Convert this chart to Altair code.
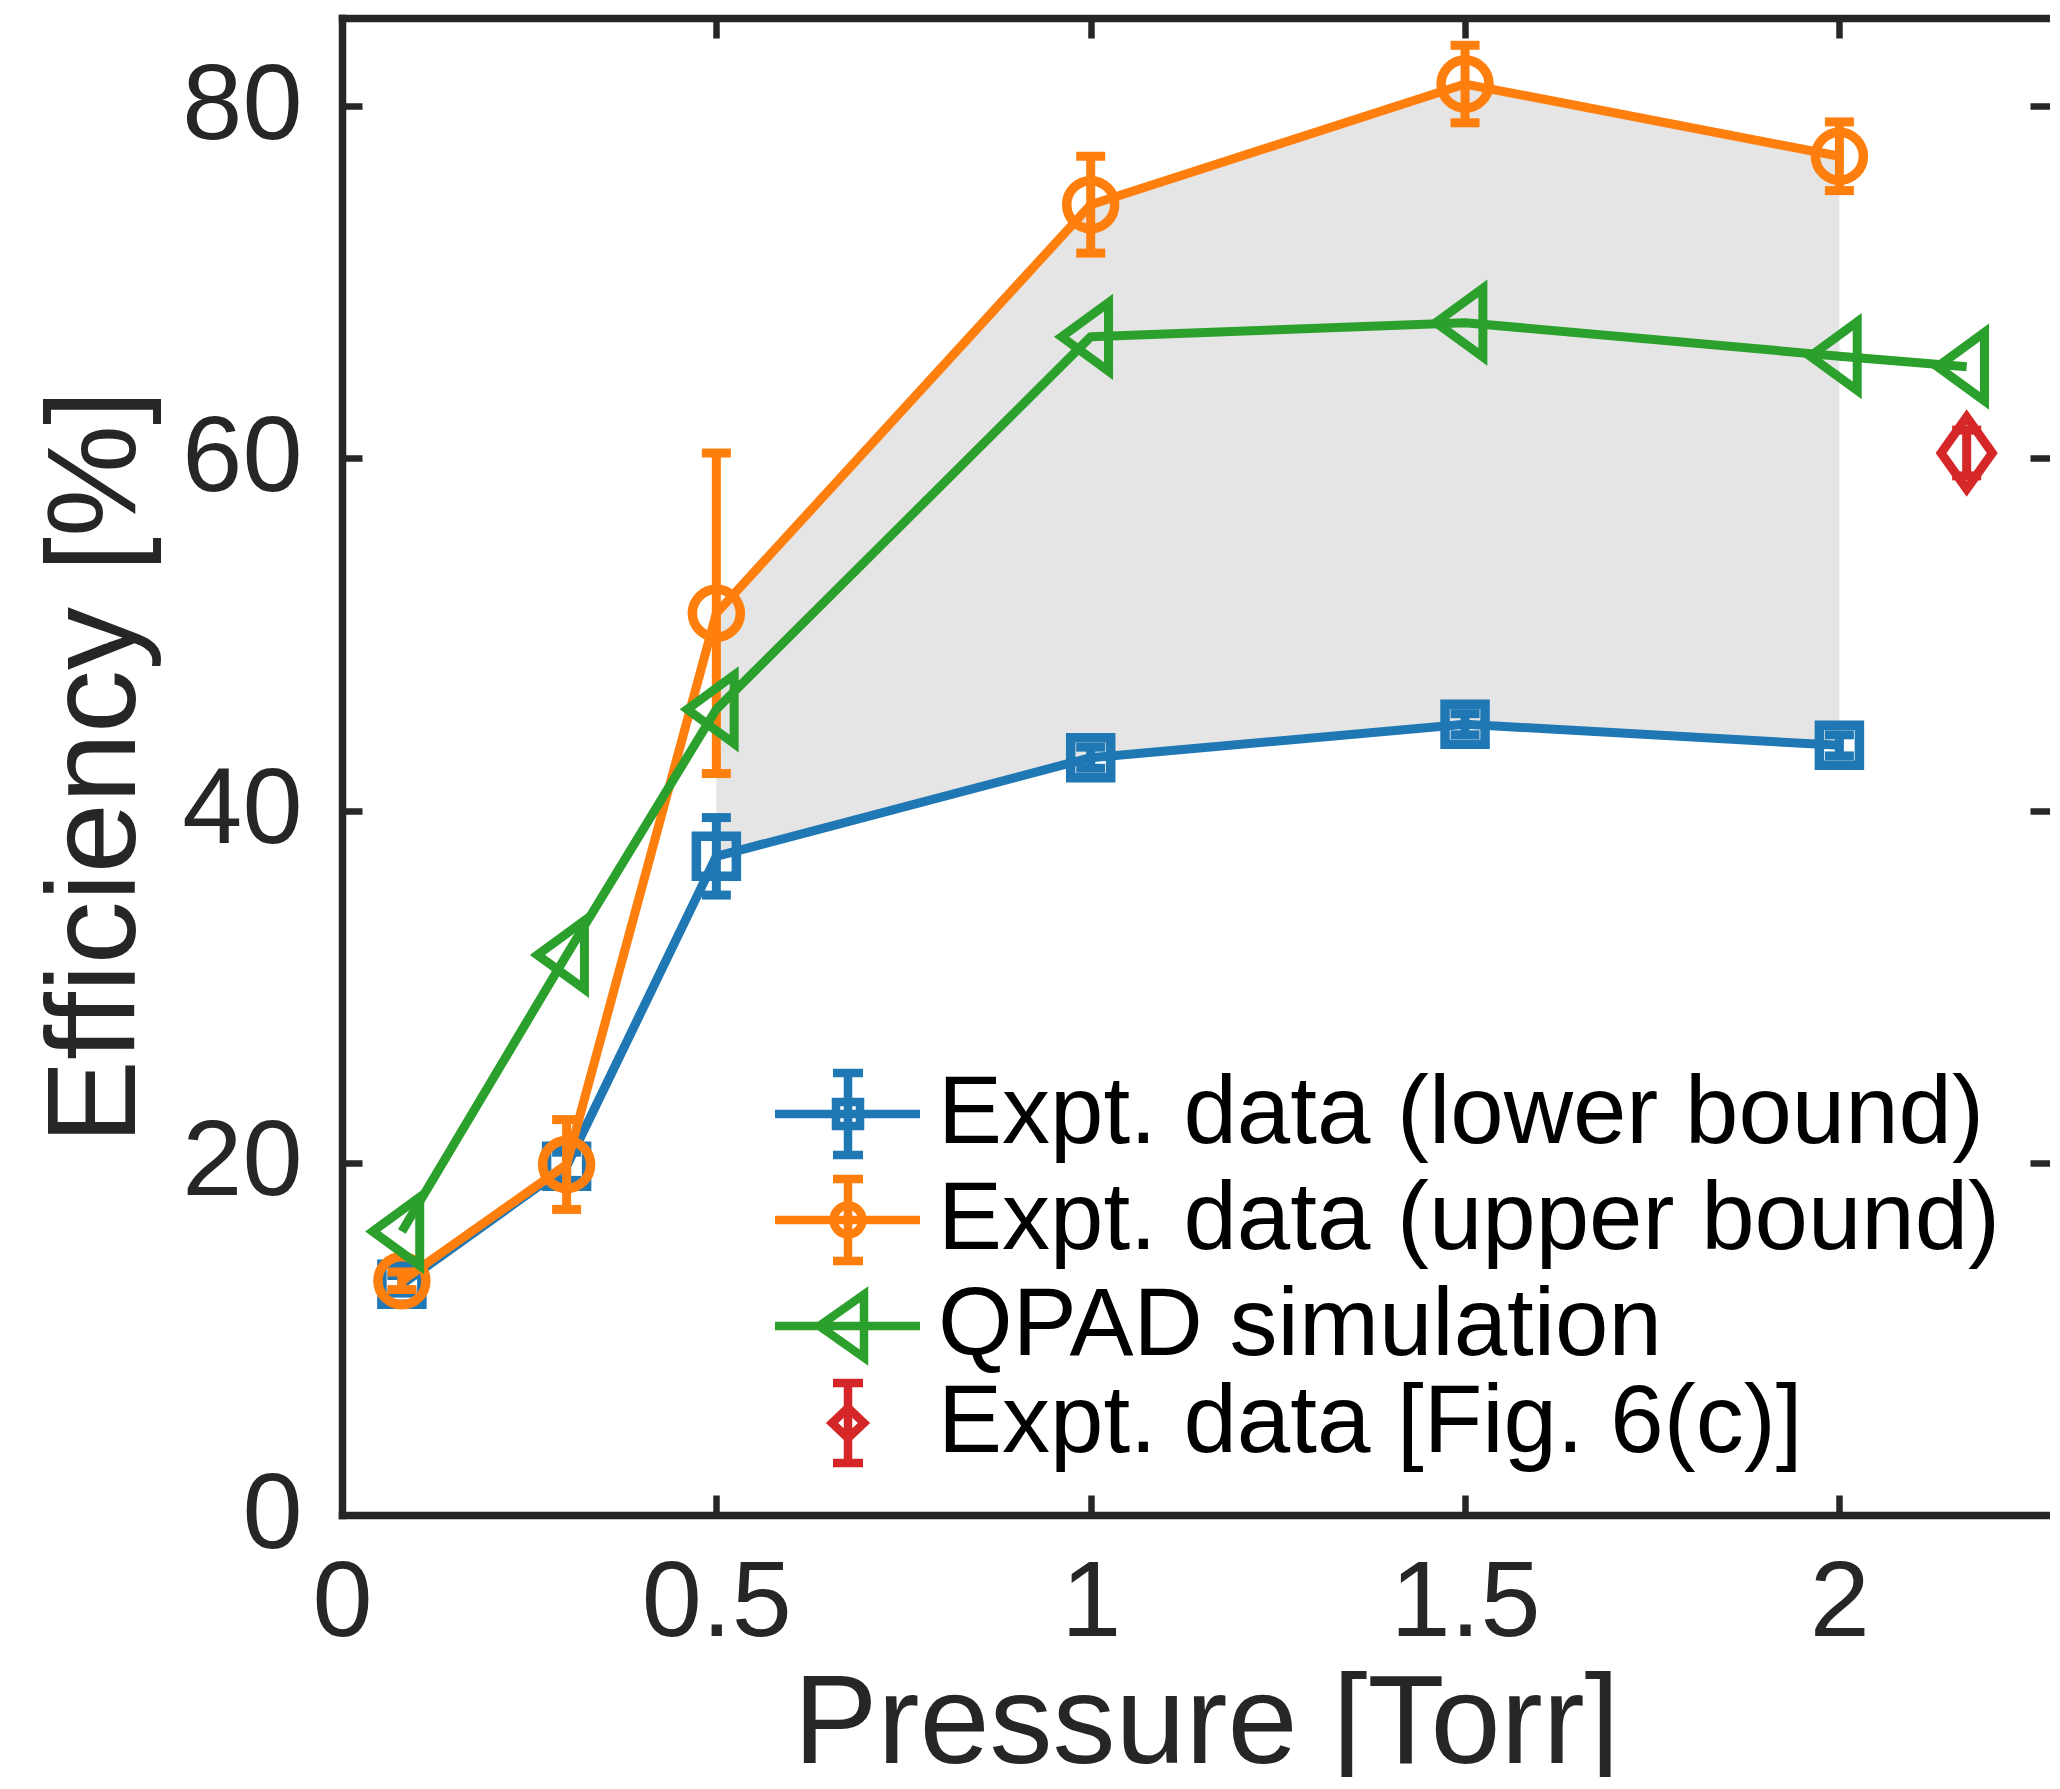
import altair as alt
import pandas as pd

# ---------------- data ----------------
pressure = [0.08, 0.3, 0.5, 1.0, 1.5, 2.0]
lower = [13.1, 19.8, 37.4, 43.0, 44.9, 43.7]
lower_err = [0.5, 0.8, 2.2, 0.6, 0.6, 0.6]
upper = [13.3, 19.9, 51.2, 74.4, 81.25, 77.15]
upper_err = [0.5, 2.55, 9.1, 2.75, 2.2, 1.95]

sim_pressure = [0.08, 0.3, 0.5, 1.0, 1.5, 2.0, 2.17]
sim = [16.1, 31.8, 45.75, 66.9, 67.7, 65.8, 65.2]

fig6c_pressure = [2.17]
fig6c = [60.3]
fig6c_err = [1.3]

series_names = ["Expt. data (lower bound)", "Expt. data (upper bound)",
                "QPAD simulation", "Expt. data [Fig. 6(c)]"]
series_colors = ["#1f77b4", "#ff7f0e", "#2ca02c", "#d62728"]

x_ticks = [0, 0.5, 1, 1.5, 2]
y_ticks = [0, 20, 40, 60, 80]

expt_df = pd.DataFrame({"p": pressure, "lower": lower, "lower_err": lower_err,
                        "upper": upper, "upper_err": upper_err})
sim_df = pd.DataFrame({"p": sim_pressure, "sim": sim})
fig6c_df = pd.DataFrame({"p": fig6c_pressure, "eff": fig6c, "err": fig6c_err})
legend_df = pd.DataFrame({"series": series_names})

# ---------------- styling ----------------
W, H = 1708, 1497
FONT = "Liberation Sans"
AX = "#262626"
C_LO, C_UP, C_SIM, C_FIG = series_colors

xscale = alt.Scale(domain=[0, W / 748.7], nice=False, zero=False)
yscale = alt.Scale(domain=[0, 85], nice=False, zero=False)

x_axis = alt.Axis(
    values=x_ticks, format=".1~f", orient="bottom", title="Pressure [Torr]",
    domain=True, domainColor=AX, domainWidth=7.5, domainCap="square",
    ticks=False, tickSize=0,
    labelFont=FONT, labelFontSize=108, labelColor=AX, labelPadding=120,
    labelBaseline="alphabetic", labelFlush=False, labelOverlap=False, labelLimit=600,
    grid=True, gridColor=AX, gridWidth=6.5, gridOpacity=1, gridDash=[20, H - 40],
    titleFont=FONT, titleFontSize=126, titleFontWeight="normal", titleColor=AX,
    titleBaseline="alphabetic", titleAlign="center", titleX=864, titleY=247,
    titleLimit=3000,
)
y_axis = alt.Axis(
    values=y_ticks, format="d", orient="left", title="Efficiency [%]",
    domain=True, domainColor=AX, domainWidth=7.5, domainCap="square",
    ticks=False, tickSize=0,
    labelFont=FONT, labelFontSize=108, labelColor=AX, labelPadding=40,
    labelBaseline="middle", labelFlush=False, labelOverlap=False, labelLimit=600,
    grid=True, gridColor=AX, gridWidth=6.5, gridOpacity=1, gridDash=[20, W - 40],
    titleFont=FONT, titleFontSize=126, titleFontWeight="normal", titleColor=AX,
    titleBaseline="alphabetic", titleAlign="center", titleAngle=270,
    titleX=-208, titleY=H / 2, titleLimit=3000,
)
top_axis = alt.Axis(orient="top", domain=True, domainColor=AX, domainWidth=7.5,
                    domainCap="square", ticks=False, labels=False, grid=False, title=None)

X = alt.X("p:Q", scale=xscale, axis=x_axis)


def Y(field):
    return alt.Y(field, scale=yscale, axis=y_axis)


# ---------------- layers ----------------
base = alt.Chart(expt_df)

band = base.transform_filter("datum.p >= 0.5 && datum.p <= 2").mark_area(
    color="#e5e5e5", opacity=1).encode(x=X, y=Y("lower:Q"), y2="upper:Q")


def series_layers(chart, val, err, color, shape, size, sw):
    layers = [chart.mark_line(color=color, strokeWidth=9, strokeJoin="round").encode(
        x=X, y=Y(f"{val}:Q"))]
    if err is not None:
        eb = chart.transform_calculate(lo=f"datum.{val} - datum.{err}",
                                       hi=f"datum.{val} + datum.{err}")
        layers.append(eb.mark_rule(color=color, strokeWidth=9).encode(
            x=X, y=Y("lo:Q"), y2="hi:Q"))
        layers.append(eb.transform_fold(["lo", "hi"], as_=["k", "cap"]).mark_tick(
            orient="horizontal", size=29, thickness=9, color=color, opacity=1).encode(
            x=X, y=Y("cap:Q")))
    layers.append(chart.mark_point(shape=shape, size=size, filled=False, opacity=1,
                                   strokeWidth=sw, color=color).encode(x=X, y=Y(f"{val}:Q")))
    return layers


lo_layers = series_layers(base, "lower", "lower_err", C_LO, "square", 1600, 9.5)
up_layers = series_layers(base, "upper", "upper_err", C_UP, "circle", 2300, 9.5)
sim_layers = series_layers(alt.Chart(sim_df), "sim", None, C_SIM,
                           "M-0.85,0L0.52,-1L0.52,1Z", 4700, 9)
fig_layers = series_layers(alt.Chart(fig6c_df), "eff", "err", C_FIG,
                           "M0,-1L0.71,0L0,1L-0.71,0Z", 5184, 9)
fig_layers = fig_layers[1:]  # single point: no connecting line

inner = alt.layer(band, *lo_layers, *up_layers, *sim_layers, *fig_layers)

# legend symbols: line + marker + error bar, as custom paths
legend_paths = [
    "M-1.825,0H1.8M0,-1.025V1.025M-0.375,-1.025H0.375M-0.375,1.025H0.375"
    "M-0.3,-0.3H0.3V0.3H-0.3Z",
    "M-1.825,0H1.8M0,-1.025V1.025M-0.375,-1.025H0.375M-0.375,1.025H0.375"
    "M0.36,0A0.36,0.36 0 1 1 -0.36,0A0.36,0.36 0 1 1 0.36,0Z",
    "M-1.825,0H1.8M-0.72,0L0.4,-0.79L0.4,0.79Z",
    "M0,-1V1M-0.375,-1H0.375M-0.375,1H0.375M0,-0.38L0.4,0L0,0.38L-0.4,0Z",
]
leg = alt.Legend(
    title=None, orient="none", legendX=458, legendY=1048, direction="vertical",
    columns=1, padding=0, symbolSize=6400, symbolStrokeWidth=8.5,
    labelFont=FONT, labelFontSize=96, labelColor="black", labelOffset=42,
    labelLimit=3000, rowPadding=-11,
)
legend_layer = alt.Chart(legend_df).transform_filter("false").mark_point(
    filled=False, opacity=1, strokeWidth=8.5).encode(
    x=alt.X("p:Q", scale=xscale, axis=top_axis),
    y=alt.Y("v:Q", scale=yscale, axis=None),
    color=alt.Color("series:N", scale=alt.Scale(domain=series_names, range=series_colors),
                    legend=leg),
    shape=alt.Shape("series:N", scale=alt.Scale(domain=series_names, range=legend_paths),
                    legend=leg),
)

chart = alt.layer(inner, legend_layer).resolve_axis(
    x="independent", y="independent").properties(
    width=W, height=H,
    padding={"left": 334, "top": 10, "right": 0, "bottom": 262},
    autosize=alt.AutoSizeParams(type="none"),
    background="white",
).configure_view(stroke=None)

chart.save("out.html", embed_options={"renderer": "svg", "actions": False})
